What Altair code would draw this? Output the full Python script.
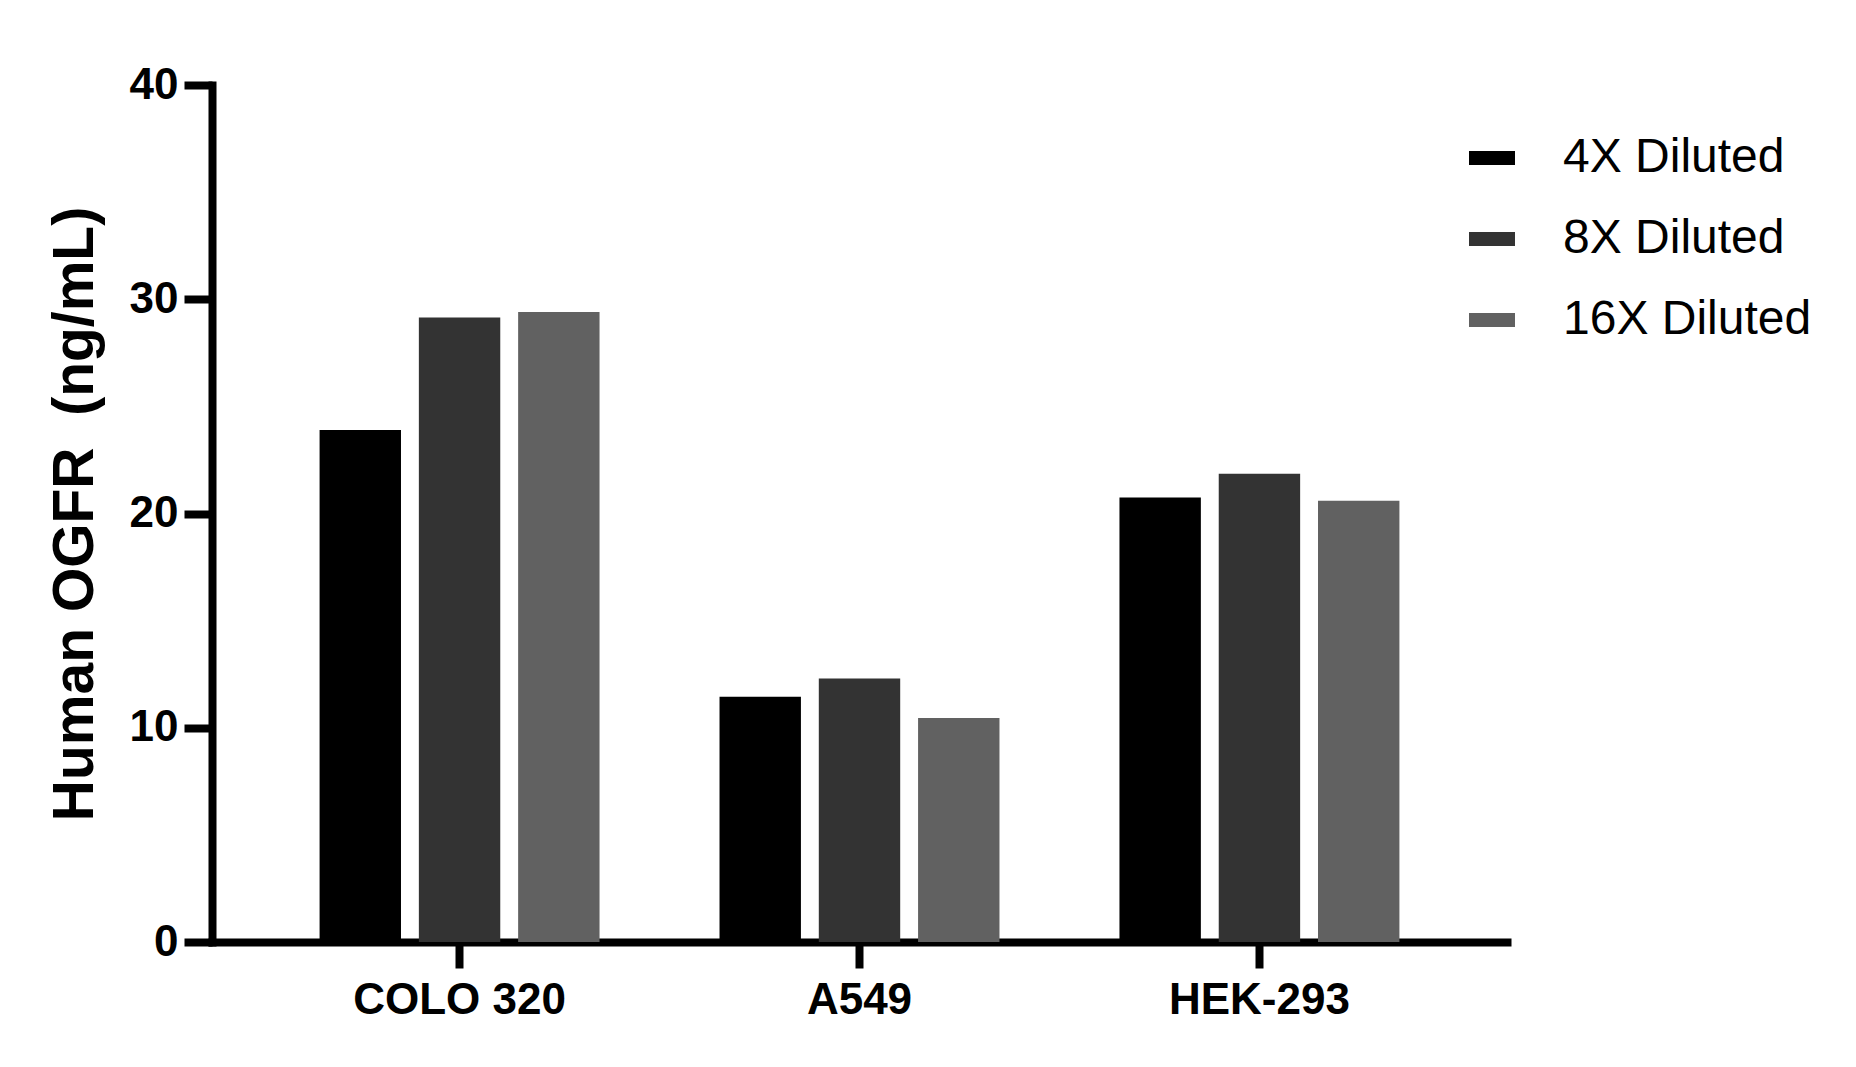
import altair as alt
import pandas as pd

categories = ["COLO 320", "A549", "HEK-293"]
series = ["4X Diluted", "8X Diluted", "16X Diluted"]
values_4x = [23.9, 11.45, 20.75]
values_8x = [29.15, 12.3, 21.85]
values_16x = [29.4, 10.45, 20.6]
colors = ["#000000", "#333333", "#616161"]
y_ticks = [0, 10, 20, 30, 40]

rows = []
for s, vals in zip(series, [values_4x, values_8x, values_16x]):
    for c, v in zip(categories, vals):
        rows.append({"cell": c, "dilution": s, "value": v})
df = pd.DataFrame(rows)

FONT = "Liberation Sans"

chart = (
    alt.Chart(df)
    .mark_bar()
    .encode(
        x=alt.X(
            "cell:N",
            sort=categories,
            scale=alt.Scale(paddingInner=0.30, paddingOuter=0.269),
            axis=alt.Axis(
                title=None,
                labelAngle=0,
                labelLimit=0,
                labelFont=FONT,
                labelFontWeight="bold",
                labelFontSize=44,
                labelColor="black",
                labelPadding=10,
                tickSize=26,
                tickWidth=8,
                tickColor="black",
                domainColor="black",
                domainWidth=8,
                domainCap="square",
            ),
        ),
        xOffset=alt.XOffset(
            "dilution:N",
            sort=series,
            scale=alt.Scale(paddingInner=0.18, paddingOuter=0),
        ),
        y=alt.Y(
            "value:Q",
            scale=alt.Scale(domain=[0, 40], nice=False),
            axis=alt.Axis(
                title="Human OGFR\u00a0 (ng/mL)",
                values=y_ticks,
                grid=False,
                labelFont=FONT,
                labelFontWeight="bold",
                labelFontSize=44,
                labelColor="black",
                labelPadding=6,
                tickSize=28,
                tickWidth=8,
                tickColor="black",
                domainColor="black",
                domainWidth=8,
                domainCap="square",
                titleFont=FONT,
                titleFontWeight="bold",
                titleFontSize=57,
                titleColor="black",
                titleX=-137,
                titleBaseline="middle",
                titleAngle=270,
            ),
        ),
        color=alt.Color(
            "dilution:N",
            sort=series,
            scale=alt.Scale(domain=series, range=colors),
            legend=alt.Legend(
                title=None,
                orient="none",
                legendX=1256,
                legendY=49,
                symbolType="M-1,-0.3H1V0.3H-1Z",
                symbolSize=2116,
                symbolStrokeWidth=0,
                labelFont=FONT,
                labelFontSize=48,
                labelColor="black",
                labelLimit=0,
                labelOffset=47,
                rowPadding=33,
                padding=0,
                symbolOffset=0,
            ),
        ),
    )
    .properties(
        width=1295,
        height=857,
        background="white",
        padding={"left": 204, "top": 77, "right": 320, "bottom": 100},
        autosize=alt.AutoSizeParams(type="none"),
    )
    .configure_view(stroke="transparent", strokeWidth=0)
)

chart.save("out.html", embed_options={"renderer": "svg", "actions": False})
